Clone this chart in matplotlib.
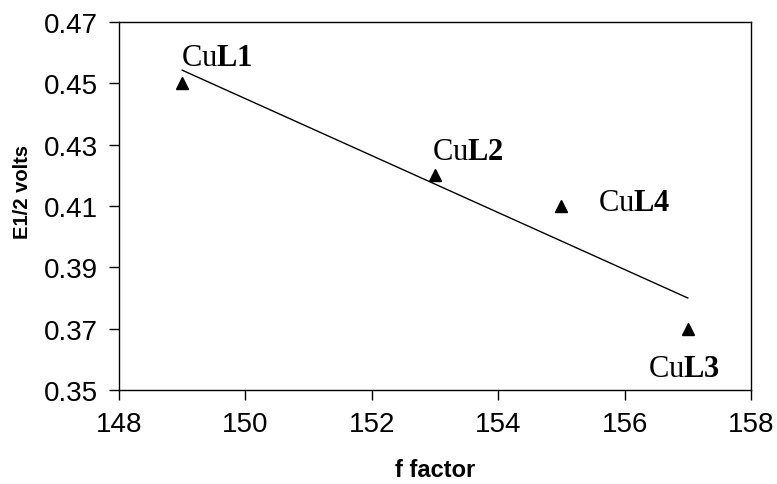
import numpy as np
import matplotlib
matplotlib.use("Agg")
import matplotlib.pyplot as plt

f_factor = [149, 153, 155, 157]
e_half = [0.45, 0.42, 0.41, 0.37]
names = ["L1", "L2", "L4", "L3"]
label_offsets = [(-1, 18), (-3, 16), (37, -4), (-40, -47)]  # pixels

plt.rcParams['mathtext.fontset'] = 'custom'
plt.rcParams['mathtext.rm'] = 'Liberation Serif'
plt.rcParams['mathtext.bf'] = 'Liberation Serif:bold'

fig = plt.figure(figsize=(7.77, 4.85), dpi=100)
ax = fig.add_axes([119/777, 1-391/485, (751-119)/777, (391-23)/485])

ax.plot(f_factor, e_half, linestyle='none', marker='^', color='black', markersize=9)

coef = np.polyfit(f_factor, e_half, 1)
xs = np.array([min(f_factor), max(f_factor)])
ax.plot(xs, np.polyval(coef, xs), color='black', linewidth=1.0)

for x, y, n, off in zip(f_factor, e_half, names, label_offsets):
    ax.annotate("Cu" + r"$\mathbf{" + n + "}$", (x, y), xytext=off, textcoords='offset pixels',
                family='Liberation Serif', fontsize=22, va='baseline', ha='left')

ax.set_xlim(148, 158)
ax.set_ylim(0.35, 0.47)
ax.set_xticks(np.arange(148, 159, 2))
ax.set_yticks([0.35, 0.37, 0.39, 0.41, 0.43, 0.45, 0.47])
ax.set_yticklabels(["0.35", "0.37", "0.39", "0.41", "0.43", "0.45", "0.47"])
ax.tick_params(labelsize=20, direction='out', length=7, width=1, pad=8)
for lab in ax.get_xticklabels() + ax.get_yticklabels():
    lab.set_family('Liberation Sans')
for s in ax.spines.values():
    s.set_linewidth(1.0)

ax.set_xlabel("f factor", fontsize=17, fontweight='bold', family='Liberation Sans')
ax.set_ylabel("E1/2 volts", fontsize=14.5, fontweight='bold', family='Liberation Sans')
ax.xaxis.set_label_coords(0.50, -0.185)
ax.yaxis.set_label_coords(-0.137, 0.54)

fig.savefig("out.png", dpi=100)
